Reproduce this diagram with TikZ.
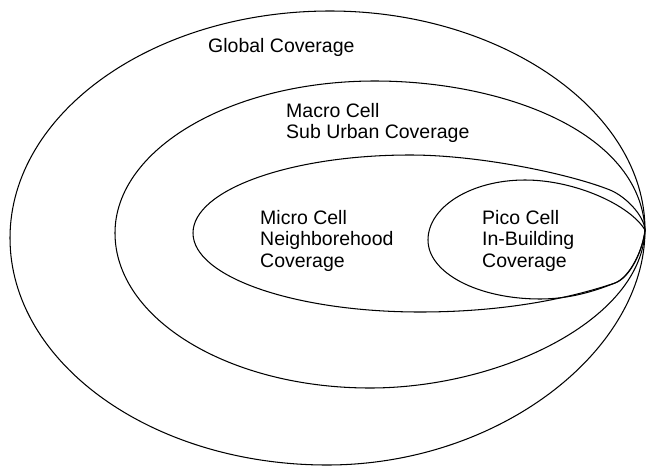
\documentclass[tikz,border=0pt]{standalone}
\usepackage{fontspec}
\setmainfont{Liberation Sans}
\begin{document}
\begin{tikzpicture}[x=1pt,y=-1pt,
  zone/.style={line width=1.05pt, line join=round},
  lbl/.style={anchor=north west, inner sep=0pt, align=left,
    font=\fontsize{19.5}{21.5}\selectfont}]
\useasboundingbox (0,0) rectangle (648,466);
\coordinate (tip) at (645,230);
% outer: global coverage
\draw[zone] (tip) .. controls (645,110) and (500,11) .. (330,11)
  .. controls (153,11) and (10,113) .. (10,238)
  .. controls (10,363) and (152,465) .. (327,465)
  .. controls (500,465) and (645,350) .. (tip);
% macro cell
\draw[zone] (tip) .. controls (640,130) and (500,81) .. (375,81)
  .. controls (231,81) and (115,149) .. (115,233)
  .. controls (115,319) and (229,388) .. (370,388)
  .. controls (500,388) and (642,320) .. (tip);
% micro cell
\draw[zone] (tip) .. controls (644,215) and (625,196) .. (610,190)
  .. controls (570,174) and (480,155) .. (410,155)
  .. controls (290,155) and (193,190) .. (193,233)
  .. controls (193,277) and (295,312) .. (420,312)
  .. controls (520,312) and (585,293) .. (615,283)
  .. controls (630,278) and (643,250) .. (tip);
% pico cell
\draw[zone] (tip) .. controls (630,205) and (575,180) .. (525,180)
  .. controls (471,180) and (428,207) .. (428,240)
  .. controls (428,273) and (478,299) .. (540,299)
  .. controls (570,299) and (595,291) .. (615,283)
  .. controls (630,277) and (643,250) .. (tip);
\node[lbl] (global) at (208,38) {Global Coverage};
\node[lbl] (macro) at (286,103) {Macro Cell\\Sub Urban Coverage};
\node[lbl] (micro) at (260,210) {Micro Cell\\Neighborehood\\Coverage};
\node[lbl] (pico) at (482,210) {Pico Cell\\In-Building\\Coverage};
\end{tikzpicture}
\end{document}
